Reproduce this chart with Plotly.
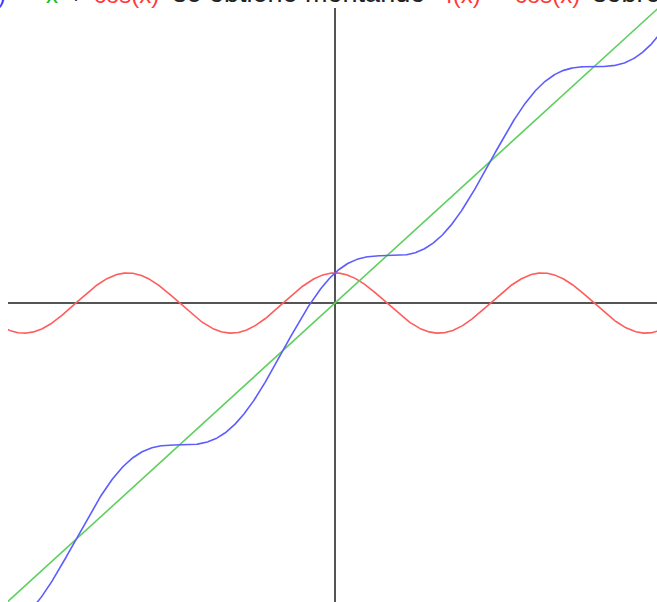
import numpy as np
import plotly.graph_objects as go

# Sample points for the functions
x_vals = np.linspace(-10.5, 10.5, 1201)
f_vals = np.cos(x_vals)            # f(x) = cos(x)
line_vals = x_vals                 # y = x
g_vals = x_vals + np.cos(x_vals)   # g(x) = x + cos(x)

# Plot window
x_range = [-9.91, 9.76]
y_range = [-9.93, 9.80]

# Heading pieces: (text, colour, font size, left pixel or right pixel, anchor)
heading_pieces = [
    ("La gráfica de g(x)", None, 24, 8, "right"),
    ("=", "#222222", 24, 26, "center"),
    ("x", "#22bb22", 24, 44, "left"),
    ("+", "#222222", 24, 76, "center"),
    ("cos(x)", "#ff3a3a", 24, 92, "left"),
    ("se obtiene montando", "#222222", 27, 171, "left"),
    ("f(x)", "#ff3a3a", 24, 444, "left"),
    ("=", "#222222", 24, 496, "center"),
    ("cos(x)", "#ff3a3a", 24, 513, "left"),
    ("sobre la recta y = x", "#222222", 27, 591, "left"),
]

W, H = 657, 602
ML, MT = 8, 8
PW, PH = W - ML, H - MT

fig = go.Figure()
fig.add_trace(go.Scatter(x=x_vals, y=f_vals, mode="lines",
                         line=dict(color="#ff5c5c", width=1.6), hoverinfo="skip"))
fig.add_trace(go.Scatter(x=x_vals, y=line_vals, mode="lines",
                         line=dict(color="#5fcf5f", width=1.6), hoverinfo="skip"))
fig.add_trace(go.Scatter(x=x_vals, y=g_vals, mode="lines",
                         line=dict(color="#5c5cff", width=1.6), hoverinfo="skip"))

baseline_px = 3.5
for text, color, size, px, anchor in heading_pieces:
    if color is None:
        label = "La gráfica de <span style='color:#3b3bff'>g(x)</span>"
        color = "#222222"
    else:
        label = text
    bottom_px = baseline_px + 1 + 0.212 * size
    fig.add_annotation(
        text=label, xref="paper", yref="paper",
        x=(px - ML) / PW, y=(H - bottom_px) / PH,
        xanchor=anchor, yanchor="bottom", showarrow=False,
        font=dict(family="Liberation Sans, Arial, sans-serif", size=size, color=color),
    )

axis_style = dict(showgrid=False, showticklabels=False, ticks="", showline=False,
                  zeroline=True, zerolinecolor="#555555", zerolinewidth=1.6)
fig.update_xaxes(range=x_range, **axis_style)
fig.update_yaxes(range=y_range, **axis_style)
fig.update_layout(
    width=W, height=H,
    margin=dict(l=ML, r=0, t=MT, b=0),
    paper_bgcolor="white", plot_bgcolor="white",
    showlegend=False,
)

fig.write_html("out.html")
